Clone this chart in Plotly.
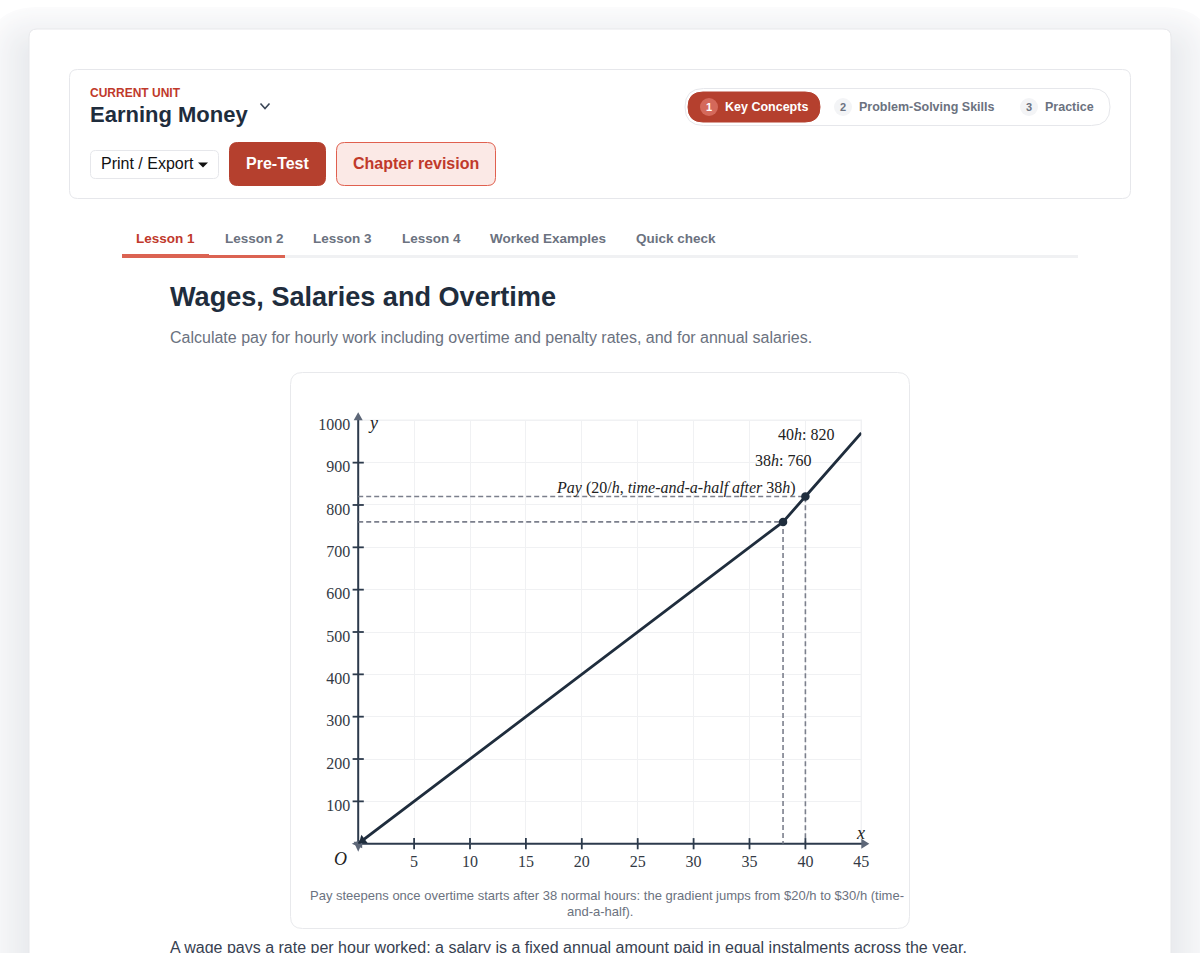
import plotly.graph_objects as go

W, H = 1200, 953
hours = [0, 38, 40, 45]
pay = [0, 760, 820, 970]
marked_hours = [38, 40]
marked_pay = [760, 820]
x_ticks = [5, 10, 15, 20, 25, 30, 35, 40, 45]
y_ticks = [100, 200, 300, 400, 500, 600, 700, 800, 900, 1000]

SANS = "Liberation Sans"
SERIF = "Liberation Serif"
DARK = "#1f2d3d"
AXIS = "#2c3a4c"
ARROW = "#5d6778"
RED = "#b5402e"
RED_T = "#c0392b"
GREY = "#6b7280"
BORDER = "#e6e7eb"
GRID = "#f0f1f3"

# plot-area box in page pixels
X0, X1, Y0, Y1 = 358.2, 861.3, 843.7, 420.3

def px(x): return x / W
def py(y): return 1 - y / H

shapes, notes = [], []

def rrect(x0, y0, x1, y1, r, fill="rgba(0,0,0,0)", line=BORDER, lw=1, op=1):
    pts = (f"M {px(x0+r)} {py(y0)} L {px(x1-r)} {py(y0)} Q {px(x1)} {py(y0)} {px(x1)} {py(y0+r)} "
           f"L {px(x1)} {py(y1-r)} Q {px(x1)} {py(y1)} {px(x1-r)} {py(y1)} "
           f"L {px(x0+r)} {py(y1)} Q {px(x0)} {py(y1)} {px(x0)} {py(y1-r)} "
           f"L {px(x0)} {py(y0+r)} Q {px(x0)} {py(y0)} {px(x0+r)} {py(y0)} Z")
    shapes.append(dict(type="path", path=pts, xref="paper", yref="paper", fillcolor=fill,
                       line=dict(color=line, width=lw), opacity=op, layer="below"))

def circle(cx, cy, r, fill):
    shapes.append(dict(type="circle", xref="paper", yref="paper", x0=px(cx-r), x1=px(cx+r),
                       y0=py(cy+r), y1=py(cy-r), fillcolor=fill, line=dict(width=0), layer="below"))

def poly(points, fill=None, color=DARK, lw=2):
    d = "M " + " L ".join(f"{px(a)} {py(b)}" for a, b in points)
    shapes.append(dict(type="path", path=d + (" Z" if fill else ""), xref="paper", yref="paper",
                       fillcolor=fill or "rgba(0,0,0,0)", line=dict(color=color if not fill else fill, width=lw if not fill else 0),
                       layer="below"))

def text(x, y, s, size=14, color=DARK, font=SANS, anchor="left"):
    notes.append(dict(x=px(x), y=py(y), xref="paper", yref="paper", text=s, showarrow=False,
                      xanchor=anchor, yanchor="middle", align=anchor,
                      font=dict(family=font, size=size, color=color), borderpad=0, borderwidth=0))

# soft card shadow, as nested solid bands
for g in range(44, 0, -2):
    t = g / 44
    c = tuple(round(a + (b - a) * t) for a, b in zip((233, 235, 238), (251, 251, 252)))
    rrect(29 - g, 29 + 22 - g, 1171 + g, 1020, 10 + g, fill=f"rgb{c}", line="rgba(0,0,0,0)", lw=0)
rrect(29, 29, 1171, 1020, 8, fill="#ffffff", line="#e7e8eb")

# header
rrect(69.5, 69.5, 1130.5, 198.5, 8, fill="#ffffff")
text(90, 93, "<b>CURRENT UNIT</b>", 12, RED_T)
text(90, 115, "<b>Earning Money</b>", 22, DARK)
poly([(260.5, 103.5), (265, 108.5), (269.5, 103.5)], color="#3a4656", lw=1.6)
rrect(90.5, 150.5, 218.5, 178.5, 5, fill="#ffffff")
text(101, 164, "Print / Export", 16, "#111111")
poly([(198, 162.5), (208, 162.5), (203, 167.5)], fill="#111111")
rrect(229.5, 142.5, 325.5, 185.5, 8, fill=RED, line=RED)
text(277.5, 164, "<b>Pre-Test</b>", 16, "#ffffff", anchor="center")
rrect(336.5, 142.5, 495.5, 185.5, 8, fill="#fbe9e6", line="#e0604f")
text(416, 164, "<b>Chapter revision</b>", 16, RED_T, anchor="center")

# stepper
rrect(685, 88.5, 1110, 125.5, 18.5, fill="#ffffff")
rrect(688, 92, 820, 122, 15, fill=RED, line=RED)
circle(709, 107, 9, "#d4695b")
text(709, 107.5, "<b>1</b>", 11, "#ffffff", anchor="center")
text(724.5, 107, "<b>Key Concepts</b>", 12.5, "#ffffff")
circle(843, 107, 9, "#f3f4f6")
text(843, 107.5, "<b>2</b>", 11, GREY, anchor="center")
text(859, 107, "<b>Problem-Solving Skills</b>", 12.5, GREY)
circle(1029, 107, 9, "#f3f4f6")
text(1029, 107.5, "<b>3</b>", 11, GREY, anchor="center")
text(1045, 107, "<b>Practice</b>", 12.5, GREY)

# tabs
for a, b, top, colr in [(122, 1078, 255, "#f0f1f3"), (122, 209, 254, "#db6352"), (209, 285, 255, "#db6352")]:
    shapes.append(dict(type="rect", xref="paper", yref="paper", x0=px(a), x1=px(b), y0=py(258), y1=py(top),
                       fillcolor=colr, line=dict(width=0), layer="below"))
text(136, 238.5, "<b>Lesson 1</b>", 13.5, RED_T)
for xpos, lab in [(225, "Lesson 2"), (313, "Lesson 3"), (402, "Lesson 4"), (490, "Worked Examples"), (636, "Quick check")]:
    text(xpos, 238.5, f"<b>{lab}</b>", 13.5, GREY)

text(170, 296, "<b>Wages, Salaries and Overtime</b>", 27.1, DARK)
text(170, 337.5, "Calculate pay for hourly work including overtime and penalty rates, and for annual salaries.", 16, GREY)
rrect(290.5, 372.5, 909.5, 928.5, 12, fill="#ffffff", line="#e8e9ec")
text(607, 895, "Pay steepens once overtime starts after 38 normal hours: the gradient jumps from $20/h to $30/h (time-", 13, GREY, anchor="center")
text(600, 911, "and-a-half).", 13, GREY, anchor="center")
text(170, 947, "A wage pays a rate per hour worked; a salary is a fixed annual amount paid in equal instalments across the year.", 16, "#374151")

# chart labels
text(373, 423, "<i>y</i>", 18, "#222222", SERIF, "center")
text(860.5, 832.5, "<i>x</i>", 18, "#222222", SERIF, "center")
text(340, 859, "<i>O</i>", 18, "#222222", SERIF, "center")
text(805.5, 434.5, "40<i>h</i>: 820", 16, "#222222", SERIF, "center")
text(783, 460, "38<i>h</i>: 760", 16, "#222222", SERIF, "center")
text(675.5, 488, "<i>Pay</i> (20/<i>h</i>, <i>time-and-a-half after</i> 38<i>h</i>)", 16, "#222222", SERIF, "center")

# outer grid edges, axis lines and arrow heads sit on the plot box
poly([(X0, Y1), (X1, Y1), (X1, Y0)], color=GRID, lw=1.4)
poly([(X0, Y0), (X1 + 2, Y0)], color=AXIS, lw=2)
poly([(X0, Y0), (X0, Y1 - 1)], color=AXIS, lw=2)
poly([(X1, Y0 - 5), (X1 + 8, Y0), (X1, Y0 + 5)], fill=ARROW)
poly([(X0 - 4.5, Y1), (X0, Y1 - 8), (X0 + 4.5, Y1)], fill=ARROW)
poly([(X0 + 4, Y0 - 4.5), (X0 - 6.5, Y0), (X0 + 4, Y0 + 4.5)], fill=ARROW)
poly([(X0 - 4.5, Y0 - 2), (X0, Y0 + 8), (X0 + 4.5, Y0 - 2)], fill=ARROW)

fig = go.Figure()
AX = dict(xaxis="x", yaxis="y", hoverinfo="skip", showlegend=False, cliponaxis=False)

# dashed guides
for h, p in zip(marked_hours, marked_pay):
    fig.add_trace(go.Scatter(x=[0, h, h], y=[p, p, 0], mode="lines",
                             line=dict(color="#7b7f8c", width=1.6, dash="5px,3px"), **AX))
# crossing ticks
fig.add_trace(go.Scatter(x=x_ticks[:-1], y=[0] * (len(x_ticks) - 1), mode="markers",
                         marker=dict(symbol="line-ns", size=8, line=dict(color=AXIS, width=1.8)), **AX))
fig.add_trace(go.Scatter(x=[0] * (len(y_ticks) - 1), y=y_ticks[:-1], mode="markers",
                         marker=dict(symbol="line-ew", size=8, line=dict(color=AXIS, width=1.8)), **AX))
# pay line
fig.add_trace(go.Scatter(x=hours, y=pay, mode="lines", line=dict(color=DARK, width=2.8), **AX))
fig.add_trace(go.Scatter(x=[0.4], y=[8], mode="markers",
                         marker=dict(symbol="triangle-up", size=9, angle=233, color=DARK), **AX))
fig.add_trace(go.Scatter(x=marked_hours, y=marked_pay, mode="markers",
                         marker=dict(color=DARK, size=8.5), **AX))

tickfont = dict(family=SERIF, size=16, color="#333a45")
fig.update_layout(
    width=W, height=H, margin=dict(l=0, r=0, t=0, b=0, pad=0, autoexpand=False), autosize=False,
    paper_bgcolor="#ffffff", plot_bgcolor="rgba(0,0,0,0)", showlegend=False, hovermode=False,
    shapes=shapes, annotations=notes,
    xaxis=dict(domain=[px(X0), px(X1)], range=[0, 45], tickmode="array", tickvals=x_ticks,
               ticktext=[str(v) for v in x_ticks], tickfont=tickfont, ticks="", showline=False,
               showgrid=True, gridcolor=GRID, gridwidth=1.4,
               zeroline=False, fixedrange=True, ticklabelstandoff=6, anchor="y"),
    yaxis=dict(domain=[py(Y0), py(Y1)], range=[0, 1000], tickmode="array", tickvals=y_ticks,
               ticktext=[str(v) for v in y_ticks], tickfont=tickfont, ticks="", showline=False,
               showgrid=True, gridcolor=GRID, gridwidth=1.4,
               zeroline=False, fixedrange=True, ticklabelstandoff=7, ticklabelshift=4, anchor="x"),
)
fig.write_html("out.html", config=dict(displayModeBar=False),
               post_script="document.body.style.margin='0';document.documentElement.style.overflow='hidden';")
